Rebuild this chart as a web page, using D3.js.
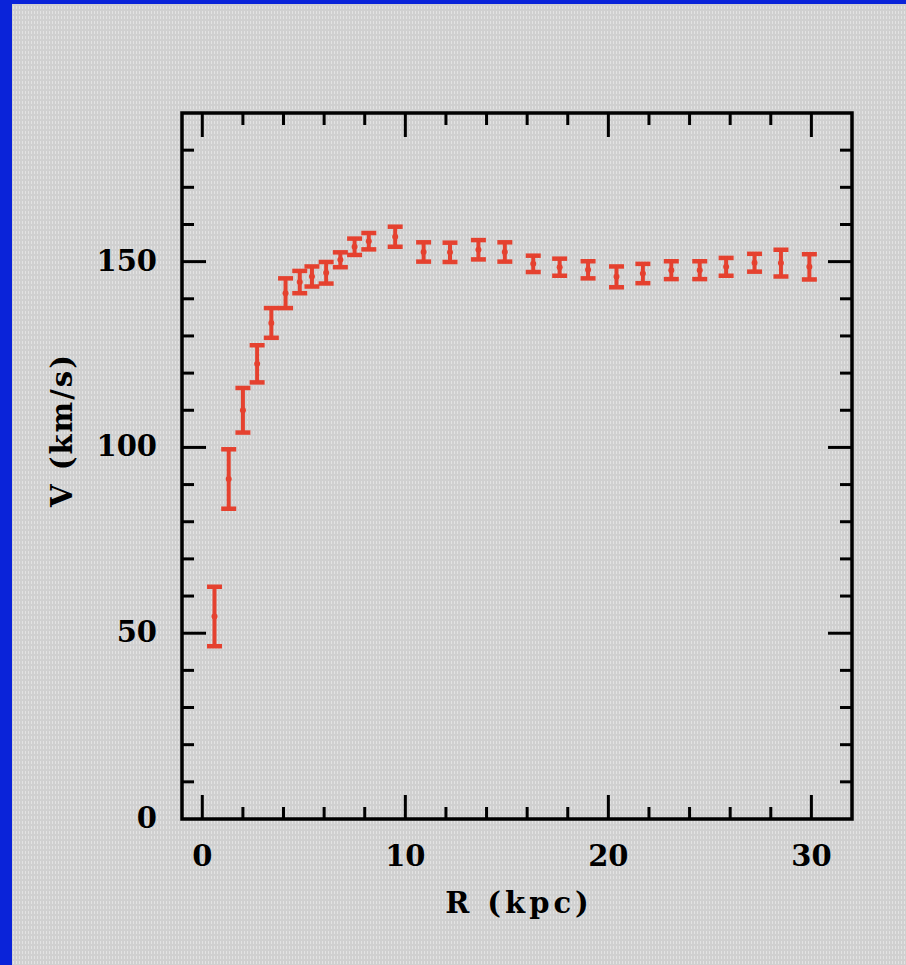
<!DOCTYPE html>
<html lang="en">
<head>
  <meta charset="utf-8">
  <title>Rotation curve</title>
  <style>
    html, body {
      margin:0;
      padding:0;
      background-color:#0a23d9;
    }
    svg {
      display:block;
    }
    .tick-label, .axis-title {
      font-family:"DejaVu Serif", serif;
      font-weight:bold;
      fill:#000;
    }
  </style>
</head>
<body>
  <div id="page"></div>
  <script src="https://d3js.org/d3.v7.min.js"></script>
  <script>
    // rotation curve data
    var radius = [0.6, 1.3, 2.0, 2.7, 3.4, 4.1, 4.8, 5.4, 6.1, 6.8, 7.5, 8.2,
                  9.5, 10.9, 12.2, 13.6, 14.9, 16.3, 17.6, 19.0, 20.4, 21.7,
                  23.1, 24.5, 25.8, 27.2, 28.5, 29.9];
    var velocity = [54.5, 91.5, 110, 122.5, 133.5, 141.5, 144.5, 146, 147, 150.5, 154, 155.5,
                    156.7, 152.6, 152.5, 153.2, 152.6, 149.4, 148.5, 147.8, 145.9, 146.8,
                    147.7, 147.7, 148.6, 149.7, 149.6, 148.6];
    var errors = [8, 8, 6, 5, 4, 4, 3, 2.7, 2.9, 2, 2.2, 2.2,
                  2.7, 2.6, 2.6, 2.6, 2.6, 2.2, 2.3, 2.3, 2.8, 2.6,
                  2.4, 2.4, 2.4, 2.4, 3.6, 3.4];

    var xMajor = [0, 10, 20, 30];
    var yMajor = [0, 50, 100, 150];

    var W = 906, H = 965;
    var box = {left:182, right:852, top:113, bottom:819};
    var red = "#e5412f";

    var svg = d3.select("#page").append("svg")
        .attr("width", W)
        .attr("height", H);

    // grey panel with a fine dotted texture, blue strip left and top
    var defs = svg.append("defs");
    var pat = defs.append("pattern")
        .attr("id", "dots")
        .attr("patternUnits", "userSpaceOnUse")
        .attr("width", 3)
        .attr("height", 5);
    pat.append("rect").attr("width", 3).attr("height", 5).attr("fill", "#d0d0d0");
    pat.append("rect").attr("x", 1).attr("y", 1).attr("width", 1).attr("height", 3).attr("fill", "#e3e3e3");

    svg.append("rect")
        .attr("x", 0).attr("y", 0)
        .attr("width", W).attr("height", H)
        .attr("fill", "#0a23d9");
    svg.append("rect")
        .attr("x", 12).attr("y", 4)
        .attr("width", W - 12).attr("height", H - 4)
        .attr("fill", "url(#dots)");

    var x = d3.scaleLinear().domain([-1, 32]).range([box.left, box.right]);
    var y = d3.scaleLinear().domain([0, 190]).range([box.bottom, box.top]);

    var xMinor = d3.range(0, 32, 2).filter(function(d){ return d % 10 != 0; });
    var yMinor = d3.range(10, 190, 10).filter(function(d){ return d % 50 != 0; });

    // inward ticks on all four sides
    var ticks = svg.append("g")
        .attr("stroke", "#000")
        .attr("stroke-width", 3);

    function xTicks(vals, len){
      ticks.selectAll(null).data(vals).enter().append("line")
          .attr("x1", function(d){ return x(d); })
          .attr("x2", function(d){ return x(d); })
          .attr("y1", box.bottom)
          .attr("y2", box.bottom - len);
      ticks.selectAll(null).data(vals).enter().append("line")
          .attr("x1", function(d){ return x(d); })
          .attr("x2", function(d){ return x(d); })
          .attr("y1", box.top)
          .attr("y2", box.top + len);
    }
    function yTicks(vals, len){
      ticks.selectAll(null).data(vals).enter().append("line")
          .attr("y1", function(d){ return y(d); })
          .attr("y2", function(d){ return y(d); })
          .attr("x1", box.left)
          .attr("x2", box.left + len);
      ticks.selectAll(null).data(vals).enter().append("line")
          .attr("y1", function(d){ return y(d); })
          .attr("y2", function(d){ return y(d); })
          .attr("x1", box.right)
          .attr("x2", box.right - len);
    }
    xTicks(xMajor, 24);
    xTicks(xMinor, 12);
    yTicks(yMajor.filter(function(d){ return d > 0; }), 24);
    yTicks(yMinor, 12);

    svg.append("rect")
        .attr("x", box.left).attr("y", box.top)
        .attr("width", box.right - box.left)
        .attr("height", box.bottom - box.top)
        .attr("fill", "none")
        .attr("stroke", "#000")
        .attr("stroke-width", 3.5);

    // tick labels
    svg.selectAll(".xl").data(xMajor).enter().append("text")
        .attr("class", "tick-label xl")
        .attr("x", function(d){ return x(d); })
        .attr("y", 866)
        .attr("text-anchor", "middle")
        .attr("font-size", 29)
        .text(function(d){ return d; });

    svg.selectAll(".yl").data(yMajor).enter().append("text")
        .attr("class", "tick-label yl")
        .attr("x", 157)
        .attr("y", function(d){ return y(d) + 9; })
        .attr("text-anchor", "end")
        .attr("font-size", 29)
        .text(function(d){ return d; });

    svg.append("text")
        .attr("class", "axis-title")
        .attr("x", (box.left + box.right) / 2 + 2)
        .attr("y", 913)
        .attr("text-anchor", "middle")
        .attr("font-size", 29)
        .attr("letter-spacing", 4)
        .text("R (kpc)");

    svg.append("text")
        .attr("class", "axis-title")
        .attr("transform", "translate(72,430) rotate(-90)")
        .attr("text-anchor", "middle")
        .attr("font-size", 29)
        .attr("letter-spacing", 2)
        .text("V (km/s)");

    // error bars
    var pts = radius.map(function(r, i){
      return {r:r, v:velocity[i], e:errors[i]};
    });

    var bars = svg.append("g").selectAll("g").data(pts).enter().append("g")
        .attr("stroke", red)
        .attr("fill", red);

    bars.append("line")
        .attr("x1", function(d){ return x(d.r); })
        .attr("x2", function(d){ return x(d.r); })
        .attr("y1", function(d){ return y(d.v + d.e); })
        .attr("y2", function(d){ return y(d.v - d.e); })
        .attr("stroke-width", 4);

    [1, -1].forEach(function(s){
      bars.append("line")
          .attr("x1", function(d){ return x(d.r) - 7.5; })
          .attr("x2", function(d){ return x(d.r) + 7.5; })
          .attr("y1", function(d){ return y(d.v + s * d.e); })
          .attr("y2", function(d){ return y(d.v + s * d.e); })
          .attr("stroke-width", 4.5);
    });

    bars.append("circle")
        .attr("cx", function(d){ return x(d.r); })
        .attr("cy", function(d){ return y(d.v); })
        .attr("r", 3)
        .attr("stroke", "none");
  </script>
</body>
</html>
